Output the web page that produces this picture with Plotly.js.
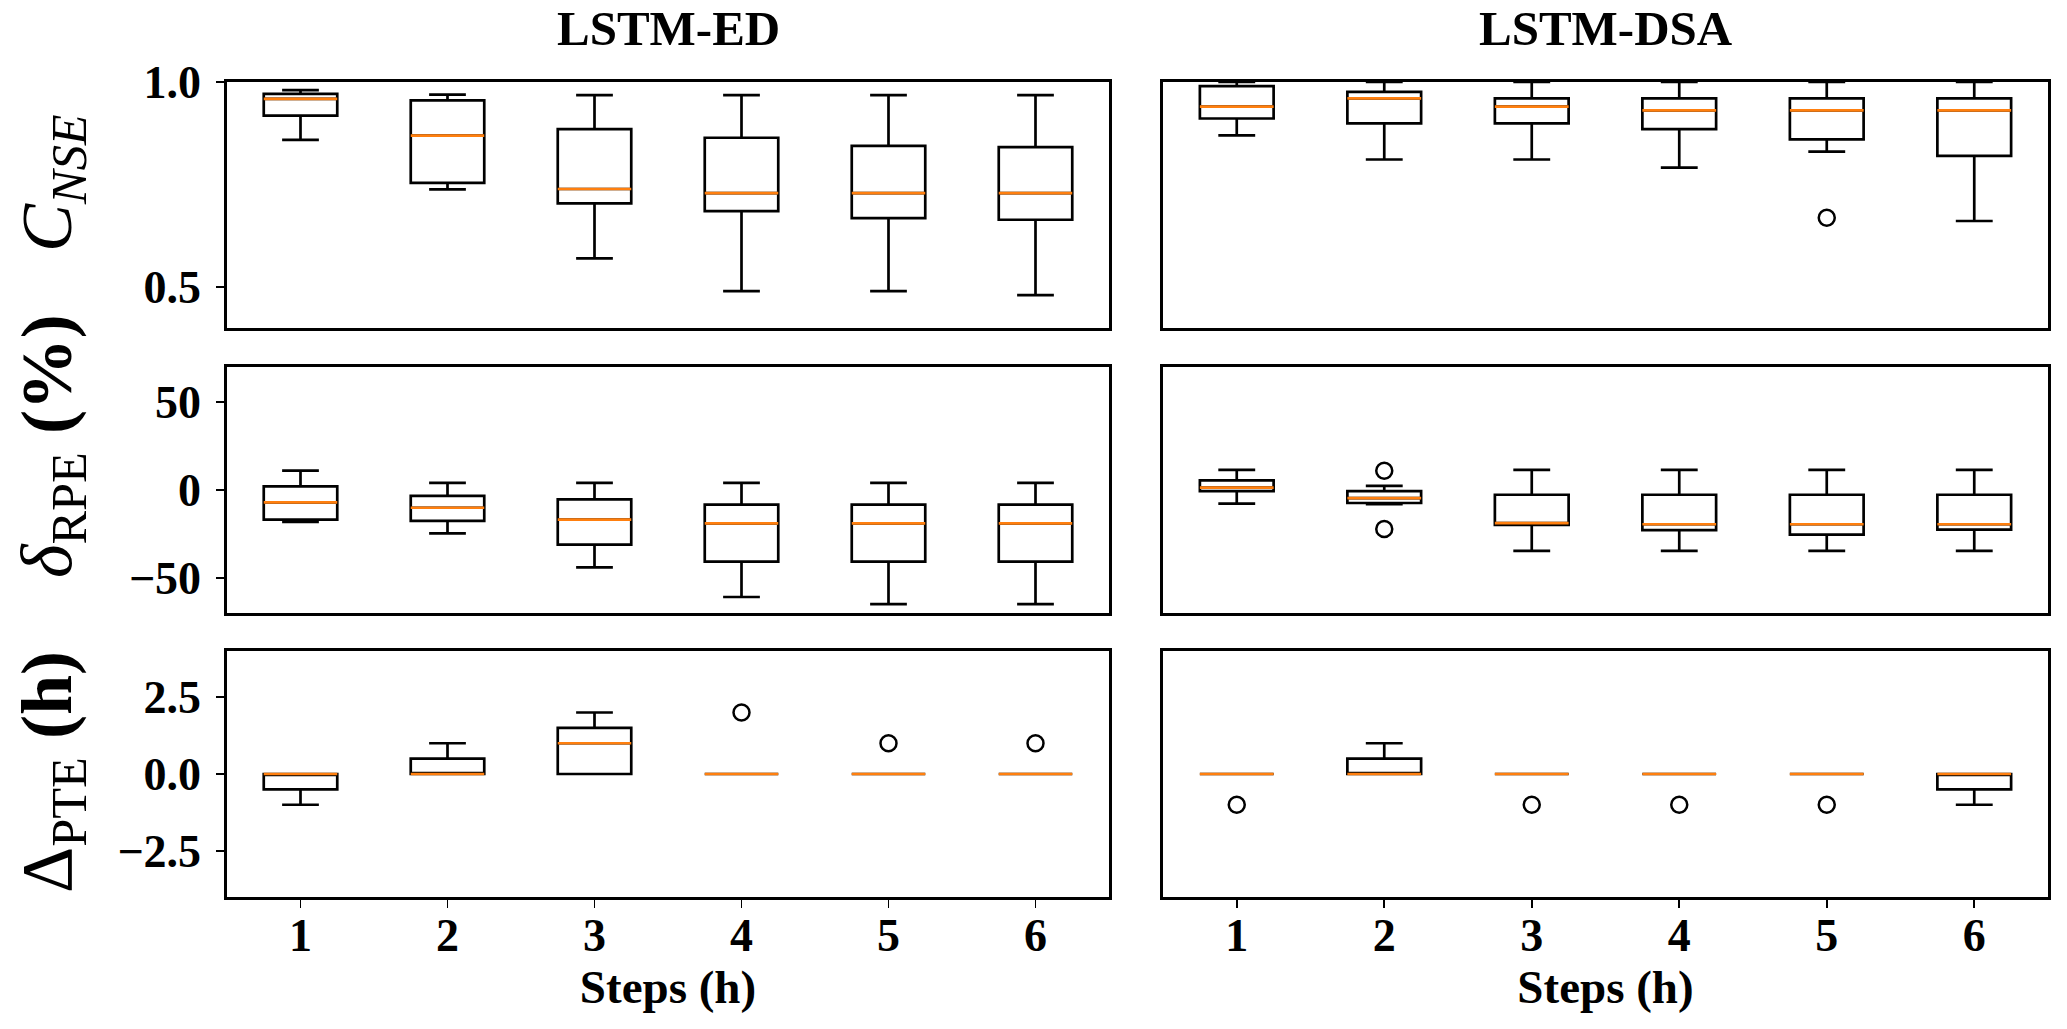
<!DOCTYPE html>
<html>
<head>
<meta charset="utf-8">
<script src="https://cdn.plot.ly/plotly-3.0.1.min.js"></script>
<style>html,body{margin:0;padding:0;background:#fff;}#chart{width:2067px;height:1029px;}</style>
</head>
<body>
<div id="chart"></div>
<script>
// ---------------- data ----------------
const steps = [1, 2, 3, 4, 5, 6];
const stepLabels = ['1', '2', '3', '4', '5', '6'];
const modelNames = ['LSTM-ED', 'LSTM-DSA'];

// C_NSE, LSTM-ED
const nseEdLow  = [0.859, 0.738, 0.570, 0.490, 0.490, 0.480];
const nseEdQ1   = [0.918, 0.754, 0.704, 0.685, 0.668, 0.664];
const nseEdMed  = [0.959, 0.869, 0.739, 0.729, 0.729, 0.729];
const nseEdQ3   = [0.971, 0.955, 0.885, 0.864, 0.844, 0.841];
const nseEdHigh = [0.980, 0.969, 0.968, 0.968, 0.968, 0.968];
const nseEdOutX = [];
const nseEdOutY = [];

// C_NSE, LSTM-DSA
const nseDsaLow  = [0.870, 0.811, 0.811, 0.791, 0.830, 0.661];
const nseDsaQ1   = [0.911, 0.899, 0.899, 0.885, 0.860, 0.820];
const nseDsaMed  = [0.940, 0.960, 0.940, 0.931, 0.931, 0.931];
const nseDsaQ3   = [0.990, 0.976, 0.960, 0.960, 0.960, 0.960];
const nseDsaHigh = [1.000, 1.000, 1.000, 1.000, 1.000, 1.000];
const nseDsaOutX = [5];
const nseDsaOutY = [0.669];

// delta_RPE (%), LSTM-ED
const rpeEdLow  = [-18.2, -24.7, -44.0, -60.9, -64.9, -64.9];
const rpeEdQ1   = [-16.9, -17.6, -31.1, -40.8, -40.8, -40.8];
const rpeEdMed  = [-7.0, -10.1, -16.9, -19.0, -19.0, -19.0];
const rpeEdQ3   = [2.1, -3.4, -5.3, -8.3, -8.3, -8.3];
const rpeEdHigh = [11.0, 4.0, 4.0, 4.0, 4.0, 4.0];
const rpeEdOutX = [];
const rpeEdOutY = [];

// delta_RPE (%), LSTM-DSA
const rpeDsaLow  = [-7.8, -8.0, -34.7, -34.7, -34.7, -34.7];
const rpeDsaQ1   = [-0.6, -7.4, -19.9, -22.8, -25.4, -22.6];
const rpeDsaMed  = [1.3, -4.6, -18.8, -19.5, -19.5, -19.5];
const rpeDsaQ3   = [5.5, -0.6, -2.7, -2.7, -2.7, -2.7];
const rpeDsaHigh = [11.4, 2.3, 11.4, 11.4, 11.4, 11.4];
const rpeDsaOutX = [2, 2];
const rpeDsaOutY = [11.0, -22.2];

// Delta_PTE (h), LSTM-ED
const pteEdLow  = [-1, 0, 0, 0, 0, 0];
const pteEdQ1   = [-0.5, 0, 0, 0, 0, 0];
const pteEdMed  = [0, 0, 1, 0, 0, 0];
const pteEdQ3   = [0, 0.5, 1.5, 0, 0, 0];
const pteEdHigh = [0, 1, 2, 0, 0, 0];
const pteEdOutX = [4, 5, 6];
const pteEdOutY = [2, 1, 1];

// Delta_PTE (h), LSTM-DSA
const pteDsaLow  = [0, 0, 0, 0, 0, -1];
const pteDsaQ1   = [0, 0, 0, 0, 0, -0.5];
const pteDsaMed  = [0, 0, 0, 0, 0, 0];
const pteDsaQ3   = [0, 0.5, 0, 0, 0, 0];
const pteDsaHigh = [0, 1, 0, 0, 0, 0];
const pteDsaOutX = [1, 3, 4, 5];
const pteDsaOutY = [-1, -1, -1, -1];

// y axis ranges and ticks per metric row
const rowRanges = [[0.4, 1.0], [-70, 70], [-4, 4]];
const rowTicks = [[0.5, 1.0], [-50, 0, 50], [-2.5, 0, 2.5]];
const rowTickFormat = ['.1f', 'd', '.1f'];
const rowLabels = [
  '<i>C</i><sub><i>NSE</i></sub>',
  '<i>δ</i><sub>RPE</sub> <b>(%)</b>',
  'Δ<sub>PTE</sub> <b>(h)</b>'
];

// ---------------- build ----------------
const W = 2067, H = 1029;
const colPx = [[227, 1109], [1163, 2048]];
const rowPx = [[82, 328], [367, 613], [651, 897]];
const labelCenterY = [183, 446, 772];
const FONT = 'Liberation Serif, Times New Roman, serif';
const ORANGE = '#ff7f0e';

const panels = [
  [nseEdLow, nseEdQ1, nseEdMed, nseEdQ3, nseEdHigh, nseEdOutX, nseEdOutY],
  [nseDsaLow, nseDsaQ1, nseDsaMed, nseDsaQ3, nseDsaHigh, nseDsaOutX, nseDsaOutY],
  [rpeEdLow, rpeEdQ1, rpeEdMed, rpeEdQ3, rpeEdHigh, rpeEdOutX, rpeEdOutY],
  [rpeDsaLow, rpeDsaQ1, rpeDsaMed, rpeDsaQ3, rpeDsaHigh, rpeDsaOutX, rpeDsaOutY],
  [pteEdLow, pteEdQ1, pteEdMed, pteEdQ3, pteEdHigh, pteEdOutX, pteEdOutY],
  [pteDsaLow, pteDsaQ1, pteDsaMed, pteDsaQ3, pteDsaHigh, pteDsaOutX, pteDsaOutY]
];

const traces = [];
const layout = {
  width: W, height: H,
  margin: {l: 0, r: 0, t: 0, b: 0, pad: 0},
  paper_bgcolor: '#fff', plot_bgcolor: '#fff',
  showlegend: false,
  font: {family: FONT, color: '#000'},
  annotations: []
};

panels.forEach((p, i) => {
  const row = Math.floor(i / 2), col = i % 2;
  const n = i + 1;
  const xa = 'x' + (n === 1 ? '' : n), ya = 'y' + (n === 1 ? '' : n);
  const [lo, q1, med, q3, hi, ox, oy] = p;
  // black boxes and whiskers
  traces.push({
    type: 'box', x: steps, q1: q1, median: med, q3: q3,
    lowerfence: lo, upperfence: hi, width: 0.5, whiskerwidth: 0.5,
    boxpoints: false, fillcolor: 'rgba(0,0,0,0)',
    line: {color: '#000', width: 2.7}, xaxis: xa, yaxis: ya, hoverinfo: 'skip'
  });
  // orange median lines (degenerate box at the median)
  traces.push({
    type: 'box', x: steps, q1: med, median: med, q3: med,
    lowerfence: med, upperfence: med, width: 0.5, whiskerwidth: 0,
    boxpoints: false, fillcolor: 'rgba(0,0,0,0)',
    line: {color: ORANGE, width: 2.7}, xaxis: xa, yaxis: ya, hoverinfo: 'skip'
  });
  // outliers
  if (ox.length) {
    traces.push({
      type: 'scatter', mode: 'markers', x: ox, y: oy,
      marker: {symbol: 'circle-open', size: 16, color: '#000', line: {width: 2.5, color: '#000'}},
      xaxis: xa, yaxis: ya, hoverinfo: 'skip', cliponaxis: false
    });
  }
  const bottom = row === 2, left = col === 0;
  const xaxis = {
    domain: [colPx[col][0] / W, colPx[col][1] / W],
    anchor: ya, range: [0.5, 6.5], fixedrange: true,
    showgrid: false, zeroline: false,
    showline: true, mirror: true, linecolor: '#000', linewidth: 2.7,
    tickmode: 'array', tickvals: steps, ticktext: stepLabels,
    ticks: bottom ? 'outside' : '', ticklen: 8, tickwidth: 1.6, tickcolor: '#000',
    showticklabels: bottom, ticklabelstandoff: -12,
    tickfont: {family: FONT, size: 46, weight: 'bold', color: '#000'},
    automargin: false
  };
  if (bottom) {
    xaxis.title = {text: 'Steps (h)', font: {family: FONT, size: 47, weight: 'bold', color: '#000'}, standoff: 2};
  }
  layout['xaxis' + (n === 1 ? '' : n)] = xaxis;
  layout['yaxis' + (n === 1 ? '' : n)] = {
    domain: [1 - rowPx[row][1] / H, 1 - rowPx[row][0] / H],
    anchor: xa, range: rowRanges[row], fixedrange: true,
    showgrid: false, zeroline: false,
    showline: true, mirror: true, linecolor: '#000', linewidth: 2.7,
    tickmode: 'array', tickvals: rowTicks[row], tickformat: rowTickFormat[row],
    ticks: left ? 'outside' : '', ticklen: 8, tickwidth: 1.6, tickcolor: '#000',
    showticklabels: left, ticklabelstandoff: 6,
    tickfont: {family: FONT, size: 46, weight: 'bold', color: '#000'},
    automargin: false
  };
});

// column titles
modelNames.forEach((name, c) => {
  layout.annotations.push({
    xref: 'paper', yref: 'paper',
    x: (colPx[c][0] + colPx[c][1]) / 2 / W, y: 1 - 28 / H,
    xanchor: 'center', yanchor: 'middle', showarrow: false,
    text: name, font: {family: FONT, size: 49, weight: 'bold', color: '#000'}
  });
});

// row (metric) labels
rowLabels.forEach((t, r) => {
  layout.annotations.push({
    xref: 'paper', yref: 'paper',
    x: 52 / W, y: 1 - labelCenterY[r] / H,
    xanchor: 'center', yanchor: 'middle', showarrow: false, textangle: -90,
    text: t, font: {family: FONT, size: 72, weight: 'normal', color: '#000'}
  });
});

Plotly.newPlot('chart', traces, layout, {staticPlot: true, displayModeBar: false});
</script>
</body>
</html>
